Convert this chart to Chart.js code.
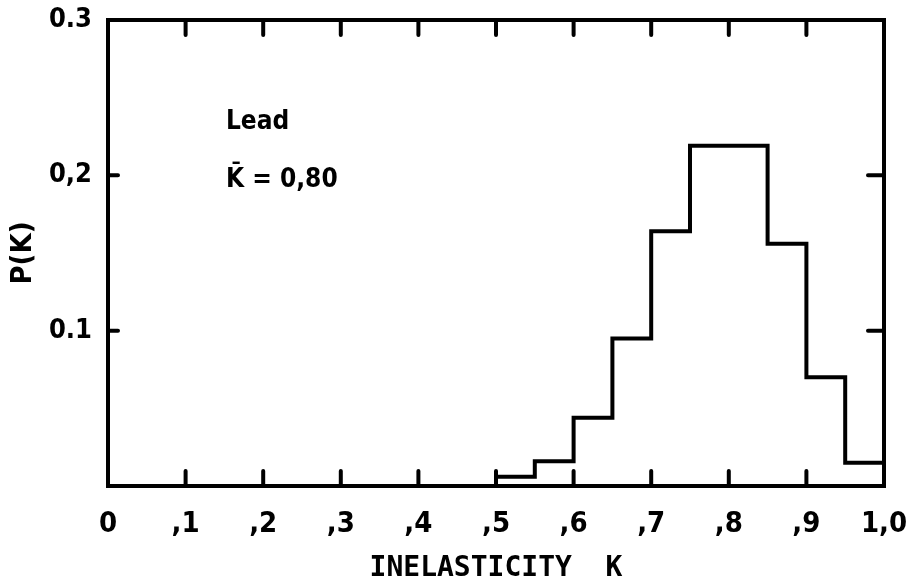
<!DOCTYPE html>
<html>
<head>
<meta charset="utf-8">
<title>Lead inelasticity</title>
<script src="https://cdn.jsdelivr.net/npm/chart.js@4.4.1/dist/chart.umd.min.js"></script>
<style>
  html, body { margin: 0; padding: 0; background: #fff; }
  #wrap { width: 911px; height: 583px; position: relative; }
</style>
</head>
<body>
<div id="wrap"><canvas id="chart" width="911" height="583"></canvas></div>
<script>
// histogram bins of inelasticity K (left edge of each 0.05 bin) and P(K)
const binStart = [0.50, 0.55, 0.60, 0.65, 0.70, 0.75, 0.80, 0.85, 0.90, 0.95];
const binValue = [0.006, 0.016, 0.044, 0.095, 0.164, 0.219, 0.219, 0.156, 0.070, 0.015];
const binWidth = 0.05;

const xTickLabels = ['0', ',1', ',2', ',3', ',4', ',5', ',6', ',7', ',8', ',9', '1,0'];
const yTickLabels = ['', '0.1', '0,2', '0.3'];

// inward tick marks on each side of the frame
const topTicks = [0.1, 0.2, 0.3, 0.4, 0.5, 0.6, 0.7, 0.8, 0.9];
const bottomTicks = [0.1, 0.2, 0.3, 0.4, 0.5, 0.6, 0.7, 0.8, 0.9];
const leftTicks = [0.1, 0.2];
const rightTicks = [0.1, 0.2];

const annotationLines = ['Lead', 'K\u0304 = 0,80'];

// step outline: each point sits on a bin's right edge with that bin's height
const points = [{ x: binStart[0], y: 0 }];
binStart.forEach((x, i) => points.push({ x: x + binWidth, y: binValue[i] }));
const lastEdge = binStart[binStart.length - 1] + binWidth;
points.push({ x: lastEdge, y: 0 });

const labelFont = "'DejaVu Sans Condensed', 'DejaVu Sans', sans-serif";

const framePlugin = {
  id: 'frame',
  afterDatasetsDraw(chart) {
    const { ctx, chartArea: a, scales: { x, y } } = chart;
    ctx.save();
    ctx.strokeStyle = '#000';
    ctx.lineWidth = 4;
    ctx.lineCap = 'round';
    ctx.strokeRect(a.left, a.top, a.right - a.left, a.bottom - a.top);

    ctx.beginPath();
    topTicks.forEach(v => {
      const px = x.getPixelForValue(v);
      ctx.moveTo(px, a.top); ctx.lineTo(px, a.top + 15);
    });
    bottomTicks.forEach(v => {
      const px = x.getPixelForValue(v);
      ctx.moveTo(px, a.bottom); ctx.lineTo(px, a.bottom - 15);
    });
    leftTicks.forEach(v => {
      const py = y.getPixelForValue(v);
      ctx.moveTo(a.left, py); ctx.lineTo(a.left + 10, py);
    });
    rightTicks.forEach(v => {
      const py = y.getPixelForValue(v);
      ctx.moveTo(a.right, py); ctx.lineTo(a.right - 16, py);
    });
    ctx.stroke();

    // label block in the upper left of the plot
    ctx.fillStyle = '#000';
    ctx.font = "bold 26px " + labelFont;
    ctx.textBaseline = 'middle';
    ctx.textAlign = 'left';
    const tx = x.getPixelForValue(0.152);
    ctx.fillText(annotationLines[0], tx, y.getPixelForValue(0.2343));
    ctx.fillText(annotationLines[1], tx, y.getPixelForValue(0.1967));
    ctx.restore();
  }
};

new Chart(document.getElementById('chart'), {
  type: 'line',
  data: {
    datasets: [{
      data: points,
      stepped: 'after',
      borderColor: '#000',
      borderWidth: 4,
      pointRadius: 0,
      fill: false
    }]
  },
  options: {
    responsive: false,
    animation: false,
    layout: { padding: { top: 20, right: 27, left: 0, bottom: 0 } },
    plugins: { legend: { display: false }, tooltip: { enabled: false } },
    scales: {
      x: {
        type: 'linear',
        min: 0,
        max: 1,
        grid: { display: false, drawTicks: false },
        border: { display: false },
        ticks: {
          stepSize: 0.1,
          autoSkip: false,
          maxRotation: 0,
          padding: 21,
          color: '#000',
          font: { family: labelFont, size: 29, weight: 'bold' },
          callback: (v, i) => xTickLabels[i]
        },
        title: {
          display: true,
          text: 'INELASTICITY  K',
          color: '#000',
          padding: 0,
          font: { family: "'DejaVu Sans Mono', monospace", size: 28, weight: 'bold', lineHeight: 1 }
        },
        afterFit: s => {
          s.height = 97;
          s.paddingLeft = 0;
          s.paddingRight = 0;
        }
      },
      y: {
        min: 0,
        max: 0.3,
        grid: { display: false, drawTicks: false },
        border: { display: false },
        ticks: {
          stepSize: 0.1,
          padding: 16,
          color: '#000',
          font: { family: labelFont, size: 27, weight: 'bold' },
          callback: (v, i) => yTickLabels[i]
        },
        title: {
          display: true,
          text: 'P(K)',
          color: '#000',
          padding: 6,
          font: { family: labelFont, size: 29, weight: 'bold' }
        },
        afterFit: s => {
          s.width = 108;
          s.paddingTop = 0;
          s.paddingBottom = 0;
        }
      }
    }
  },
  plugins: [framePlugin]
});
</script>
</body>
</html>
